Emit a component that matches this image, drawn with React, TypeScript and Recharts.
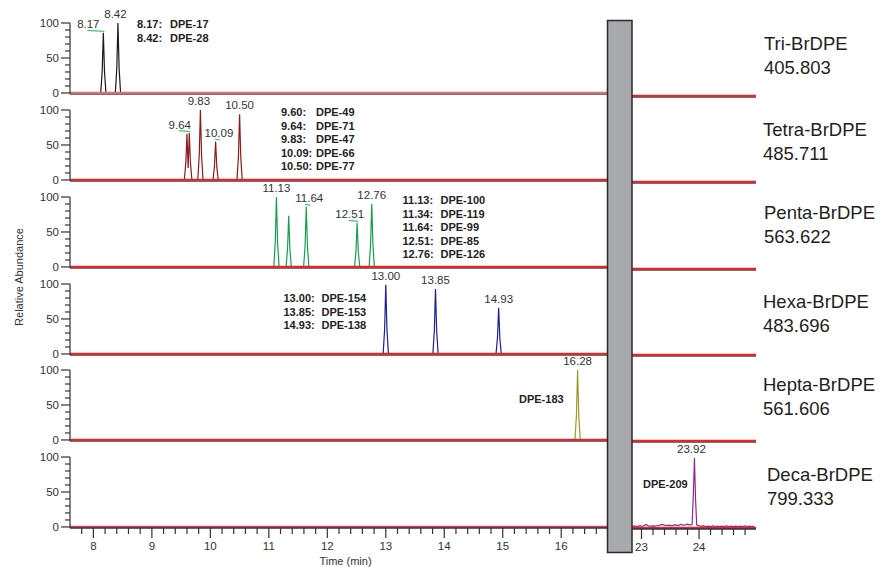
import React from 'react';
import { ComposedChart, Line, Scatter, XAxis, YAxis, ReferenceLine } from 'recharts';

// two halves of the broken time axis (min)
const leftDomain: [number, number] = [7.6, 16.8];
const rightDomain: [number, number] = [22.835, 24.99];
const yDomain: [number, number] = [-1.5, 100];
const yTicks = [0, 10, 20, 30, 40, 50, 60, 70, 80, 90, 100];
const yLabelTicks = [0, 50, 100];

const groupNames = ['Tri-BrDPE', 'Tetra-BrDPE', 'Penta-BrDPE', 'Hexa-BrDPE', 'Hepta-BrDPE', 'Deca-BrDPE'];
const groupMasses = ['405.803', '485.711', '563.622', '483.696', '561.606', '799.333'];

// ion traces as [time, abundance]; null breaks the line between peaks
const triTrace: [number, number | null][] = [
  [8.125, 0], [8.15, 30], [8.17, 86], [8.19, 30], [8.215, 0], [8.3, null],
  [8.375, 0], [8.4, 35], [8.42, 100], [8.44, 35], [8.465, 0],
];
const tetraTrace: [number, number | null][] = [
  [9.555, 0], [9.58, 24], [9.6, 66], [9.62, 17], [9.64, 67], [9.66, 24], [9.685, 0], [9.75, null],
  [9.785, 0], [9.81, 35], [9.83, 100], [9.85, 35], [9.875, 0], [9.96, null],
  [10.045, 0], [10.07, 19], [10.09, 55], [10.11, 19], [10.135, 0], [10.3, null],
  [10.455, 0], [10.48, 33], [10.5, 94], [10.52, 33], [10.545, 0],
];
const pentaTrace: [number, number | null][] = [
  [11.085, 0], [11.11, 35], [11.13, 100], [11.15, 35], [11.175, 0], [11.25, null],
  [11.295, 0], [11.32, 26], [11.34, 73], [11.36, 26], [11.385, 0], [11.5, null],
  [11.595, 0], [11.62, 30], [11.64, 86], [11.66, 30], [11.685, 0], [12.1, null],
  [12.465, 0], [12.49, 22], [12.51, 63], [12.53, 22], [12.555, 0], [12.63, null],
  [12.715, 0], [12.74, 32], [12.76, 90], [12.78, 32], [12.805, 0],
];
const hexaTrace: [number, number | null][] = [
  [12.955, 0], [12.98, 35], [13.0, 99], [13.02, 35], [13.045, 0], [13.4, null],
  [13.805, 0], [13.83, 33], [13.85, 93], [13.87, 33], [13.895, 0], [14.4, null],
  [14.885, 0], [14.91, 23], [14.93, 66], [14.95, 23], [14.975, 0],
];
const heptaTrace: [number, number | null][] = [
  [16.235, 0], [16.26, 35], [16.28, 100], [16.3, 35], [16.325, 0],
];
const decaLeftTrace: [number, number | null][] = [[7.6, 0], [16.8, 0]];
const decaRightTrace: [number, number | null][] = [
  [22.84, 2], [22.88, 3], [22.92, 2], [22.96, 3], [23.0, 2.5], [23.04, 3], [23.08, 5], [23.12, 3],
  [23.16, 2.5], [23.2, 3], [23.24, 2.5], [23.28, 3.5], [23.32, 4], [23.36, 5], [23.4, 4], [23.44, 3.5],
  [23.48, 4], [23.52, 3], [23.56, 4], [23.6, 4.5], [23.64, 3.5], [23.68, 5], [23.72, 4], [23.76, 4.5],
  [23.8, 5.5], [23.84, 4], [23.88, 5], [23.9, 45], [23.92, 100], [23.94, 40], [23.96, 4],
  [24.0, 3], [24.04, 2.5], [24.08, 3], [24.12, 2], [24.16, 2.5], [24.2, 2], [24.24, 3], [24.28, 2],
  [24.32, 2.5], [24.36, 2], [24.4, 2.5], [24.44, 2], [24.48, 3], [24.52, 2], [24.56, 2.5], [24.6, 2],
  [24.64, 2.5], [24.68, 2], [24.72, 2.5], [24.76, 2], [24.8, 3], [24.84, 2], [24.88, 2.5], [24.92, 2], [24.96, 2.5],
];
const flatRight: [number, number | null][] = [[22.84, 0], [24.98, 0]];

// labelled peak apexes [time, abundance]
const triPeaks = [[8.17, 86], [8.42, 100]];
const tetraPeaks = [[9.64, 67], [9.83, 100], [10.09, 55], [10.5, 94]];
const pentaPeaks = [[11.13, 100], [11.64, 86], [12.51, 63], [12.76, 90]];
const hexaPeaks = [[13.0, 99], [13.85, 93], [14.93, 66]];
const heptaPeaks = [[16.28, 100]];
const decaPeaks = [[23.92, 100]];

// congener assignments [retention time, congener]
const triIds = [['8.17:', 'DPE-17'], ['8.42:', 'DPE-28']];
const tetraIds = [['9.60:', 'DPE-49'], ['9.64:', 'DPE-71'], ['9.83:', 'DPE-47'], ['10.09:', 'DPE-66'], ['10.50:', 'DPE-77']];
const pentaIds = [['11.13:', 'DPE-100'], ['11.34:', 'DPE-119'], ['11.64:', 'DPE-99'], ['12.51:', 'DPE-85'], ['12.76:', 'DPE-126']];
const hexaIds = [['13.00:', 'DPE-154'], ['13.85:', 'DPE-153'], ['14.93:', 'DPE-138']];
const heptaIds = [['', 'DPE-183']];
const decaIds = [['', 'DPE-209']];

// layout
const panelTops = [23, 110, 197, 284, 370, 457];
const rightShift = [3, 2, 2, 1, 1, 1];
const PLOT_H = 71;
const TOP_PAD = 18;
const BOTTOM_PAD = 8;
const AXIS_H = 40;
const LEFT_W = 608;
const Y_W = 70;
const RIGHT_X = 632;
const RIGHT_W = 124;
const traceColors = ['#1a1a1a', '#8e1c1c', '#14a050', '#1f1f8f', '#9b9b25', '#8e2a93'];
const baseColors = ['#d8706e', '#e3262b', '#e3262b', '#e3262b', '#e3262b', '#d8405c'];
const idBlocks = [
  { x: 137, dx: 33, y: 28 },
  { x: 281, dx: 35, y: 116 },
  { x: 402.5, dx: 38, y: 204 },
  { x: 283.5, dx: 38, y: 302 },
  { x: 519, dx: 0, y: 403 },
  { x: 643, dx: 0, y: 488 },
];
const nameBlocks = [
  { x: 764, y: 50 }, { x: 763, y: 136 }, { x: 764, y: 219 },
  { x: 763, y: 308 }, { x: 763, y: 391 }, { x: 767, y: 481 },
];
// horizontal offset of some peak labels, the ones with a leader line are marked
const labelShift: Record<string, { dx: number; leader: boolean }> = {
  '8.17': { dx: -15, leader: true },
  '9.64': { dx: -9.5, leader: true },
  '10.09': { dx: 3.3, leader: true },
  '11.64': { dx: 3, leader: true },
  '12.51': { dx: -7.4, leader: true },
  '8.42': { dx: -2.5, leader: false },
  '9.83': { dx: -1.5, leader: false },
  '23.92': { dx: -3, leader: false },
};

const toRows = (tr: [number, number | null][]) => tr.map(([t, v]) => ({ t, v }));
const toPeaks = (p: number[][]) => p.map(([t, v]) => ({ t, v }));

const panels = [
  { left: triTrace, right: flatRight, peaks: triPeaks, rightPeaks: [], ids: triIds },
  { left: tetraTrace, right: flatRight, peaks: tetraPeaks, rightPeaks: [], ids: tetraIds },
  { left: pentaTrace, right: flatRight, peaks: pentaPeaks, rightPeaks: [], ids: pentaIds },
  { left: hexaTrace, right: flatRight, peaks: hexaPeaks, rightPeaks: [], ids: hexaIds },
  { left: heptaTrace, right: flatRight, peaks: heptaPeaks, rightPeaks: [], ids: heptaIds },
  { left: decaLeftTrace, right: decaRightTrace, peaks: [], rightPeaks: decaPeaks, ids: decaIds },
];

const leftTicks: number[] = [];
for (let k = 39; k <= 83; k++) leftTicks.push(Math.round(k * 2) / 10);
const rightTicks: number[] = [];
for (let k = 115; k <= 124; k++) rightTicks.push(Math.round(k * 2) / 10);

const FONT = '"Liberation Sans", Arial, Helvetica, sans-serif';
const INK = '#333';

const PeakLabel = (props: any) => {
  const { cx, cy, payload } = props;
  if (cx == null || cy == null) return null;
  const key = payload.t.toFixed(2);
  const s = labelShift[key];
  const tx = cx + (s ? s.dx : 0);
  if (s && s.leader) {
    return (
      <g>
        <line x1={Math.min(tx, cx) - 1} x2={Math.max(tx, cx) + 1} y1={cy - 2.5} y2={cy - 1.5} stroke="#4cc46e" strokeWidth={1.2} />
        <text x={tx} y={cy - 4.5} textAnchor="middle" fontSize={11.5} fill={INK} fontFamily={FONT}>{key}</text>
      </g>
    );
  }
  return (
    <text x={tx} y={cy - 5} textAnchor="middle" fontSize={11.5} fill={INK} fontFamily={FONT}>{key}</text>
  );
};

const AbundanceTick = (props: any) => {
  const { x, y, payload } = props;
  const labelled = yLabelTicks.includes(payload.value);
  return (
    <g>
      <line x1={x - (labelled ? 9 : 5)} x2={x} y1={y} y2={y} stroke={INK} strokeWidth={1.2} />
      {labelled && (
        <text x={x - 11} y={y + 4} textAnchor="end" fontSize={11.5} fill={INK} fontFamily={FONT}>{payload.value}</text>
      )}
    </g>
  );
};

const TimeTick = (props: any) => {
  const { x, y, payload } = props;
  const v = payload.value;
  const major = Math.abs(v - Math.round(v)) < 1e-6;
  return (
    <g>
      <line x1={x} x2={x} y1={y} y2={y + (major ? 10 : 6)} stroke={INK} strokeWidth={1.2} />
      {major && (
        <text x={x} y={y + 22} textAnchor="middle" fontSize={11.5} fill={INK} fontFamily={FONT}>{Math.round(v)}</text>
      )}
    </g>
  );
};

const Panel = ({ idx, side }: { idx: number; side: 'left' | 'right' }) => {
  const p = panels[idx];
  const bottom = idx === panels.length - 1;
  const isLeft = side === 'left';
  const width = isLeft ? LEFT_W : RIGHT_W;
  const padBottom = bottom ? 0 : BOTTOM_PAD;
  const height = TOP_PAD + PLOT_H + (bottom ? AXIS_H : padBottom);
  const top = panelTops[idx] - TOP_PAD + (isLeft ? 0 : rightShift[idx]);
  const trace = toRows(isLeft ? p.left : p.right);
  const peaks = toPeaks(isLeft ? p.peaks : p.rightPeaks);
  return (
    <div style={{ position: 'absolute', left: isLeft ? 0 : RIGHT_X, top }}>
      <ComposedChart width={width} height={height} margin={{ top: TOP_PAD, right: 0, bottom: padBottom, left: 0 }}>
        <XAxis
          type="number"
          dataKey="t"
          domain={isLeft ? leftDomain : rightDomain}
          ticks={isLeft ? leftTicks : rightTicks}
          interval={0}
          hide={!bottom}
          height={bottom ? AXIS_H : 0}
          tickSize={0}
          tickMargin={0}
          tickLine={false}
          tick={<TimeTick />}
          axisLine={{ stroke: INK, strokeWidth: 1.5 }}
        />
        <YAxis
          type="number"
          domain={yDomain}
          ticks={yTicks}
          interval={0}
          hide={!isLeft}
          width={isLeft ? Y_W : 0}
          tickSize={0}
          tickMargin={0}
          tickLine={false}
          tick={<AbundanceTick />}
          axisLine={{ stroke: INK, strokeWidth: 1.2 }}
        />
        {!bottom && <ReferenceLine y={yDomain[0]} stroke="#444" strokeWidth={1.5} />}
        <Line
          data={trace}
          dataKey="v"
          type="linear"
          stroke={traceColors[idx]}
          strokeWidth={1.2}
          dot={false}
          connectNulls={false}
          isAnimationActive={false}
        />
        <ReferenceLine y={0} stroke={isLeft ? baseColors[idx] : '#e3262b'} strokeWidth={2.2} />
        {peaks.length > 0 && (
          <Scatter data={peaks} dataKey="v" shape={<PeakLabel />} isAnimationActive={false} />
        )}
      </ComposedChart>
    </div>
  );
};

export default function App() {
  return (
    <div style={{ position: 'absolute', left: 0, top: 0, width: 882, height: 567, background: '#fff', fontFamily: FONT }}>
      {panels.map((_, i) => (
        <React.Fragment key={i}>
          <Panel idx={i} side="left" />
          <Panel idx={i} side="right" />
        </React.Fragment>
      ))}
      <svg width={882} height={567} style={{ position: 'absolute', left: 0, top: 0, pointerEvents: 'none' }}>
        <rect x={607.5} y={20.5} width={24.5} height={532} fill="#a8a9ad" stroke="#2b2b2b" strokeWidth={1.5} />
        {panels.map((p, i) => (
          <g key={i}>
            {p.ids.map(([rt, id], j) => (
              <g key={j} fontSize={11} fontWeight="bold" fill="#222" fontFamily={FONT}>
                {rt && <text x={idBlocks[i].x} y={idBlocks[i].y + j * 13.5}>{rt}</text>}
                <text x={idBlocks[i].x + idBlocks[i].dx} y={idBlocks[i].y + j * 13.5}>{id}</text>
              </g>
            ))}
            <text x={nameBlocks[i].x} y={nameBlocks[i].y} fontSize={18.5} fill="#231f20" fontFamily={FONT}>{groupNames[i]}</text>
            <text x={nameBlocks[i].x} y={nameBlocks[i].y + 23.5} fontSize={18.5} fill="#231f20" fontFamily={FONT}>{groupMasses[i]}</text>
          </g>
        ))}
        <text x={345.5} y={565} textAnchor="middle" fontSize={11} fill={INK} fontFamily={FONT}>Time (min)</text>
        <text x={23} y={277} textAnchor="middle" fontSize={11} fill={INK} fontFamily={FONT} transform="rotate(-90 23 277)">Relative Abundance</text>
      </svg>
    </div>
  );
}
